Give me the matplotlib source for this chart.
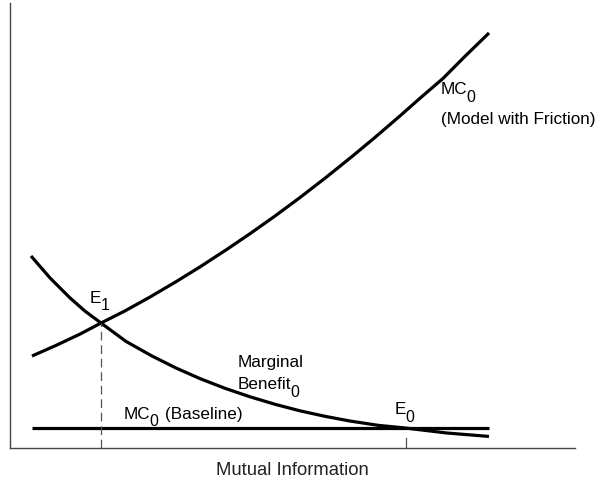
import matplotlib
matplotlib.use('Agg')
import matplotlib.pyplot as plt

plt.rcParams['font.family'] = ['Liberation Sans', 'DejaVu Sans']

# ---- data (arbitrary units 0..10) ----
mc_friction_x = [0.384, 0.809, 1.234, 1.606, 2.031, 2.474, 2.917, 3.359, 3.837, 4.245,
                 4.688, 5.130, 5.573, 6.051, 6.458, 6.901, 7.255, 7.662, 8.052, 8.477]
mc_friction_y = [2.066, 2.304, 2.558, 2.807, 3.079, 3.391, 3.721, 4.067, 4.462, 4.813,
                 5.210, 5.625, 6.059, 6.546, 6.975, 7.458, 7.855, 8.298, 8.796, 9.320]

mb_x = [0.367, 0.703, 1.057, 1.323, 1.606, 2.049, 2.509, 2.934, 3.359, 3.802,
        4.245, 4.688, 5.130, 5.573, 6.015, 6.511, 6.989, 7.733, 8.477]
mb_y = [4.312, 3.820, 3.371, 3.074, 2.807, 2.394, 2.066, 1.797, 1.559, 1.341,
        1.150, 0.982, 0.835, 0.712, 0.606, 0.510, 0.450, 0.337, 0.260]

baseline_x = [0.384, 8.477]
baseline_y = [0.450, 0.450]

e1_x, e1_y = 1.606, 2.807
e0_x, e0_y = 7.000, 0.450

xlabel = "Mutual Information"

# ---- figure ----
fig = plt.figure(figsize=(5.96, 4.82), dpi=100)
ax = fig.add_axes([0.01728, 0.0705, 0.9475, 0.9239])
ax.set_xlim(0, 10)
ax.set_ylim(0, 10)
for s in ['top', 'right']:
    ax.spines[s].set_visible(False)
for s in ['left', 'bottom']:
    ax.spines[s].set_color('#444444')
    ax.spines[s].set_linewidth(1.0)
ax.set_xticks([])
ax.set_yticks([])

lw = 2.3
ax.plot(mc_friction_x, mc_friction_y, color='black', lw=lw, solid_capstyle='butt',
        solid_joinstyle='round')
ax.plot(mb_x, mb_y, color='black', lw=lw, solid_capstyle='butt', solid_joinstyle='round')
ax.plot(baseline_x, baseline_y, color='black', lw=lw, solid_capstyle='butt')

# dashed drop line from E1 and small tick at E0
ax.plot([e1_x, e1_x], [0, e1_y], color='#555555', lw=0.9, dashes=(7.0, 3.8))
ax.plot([e0_x, e0_x], [0, 0.216], color='#555555', lw=0.9)

FS = 12.3
SUB = 11.5


def label(x, y, main, sub=None, tail=None, tail_x=None):
    t = ax.text(x, y, main, fontsize=FS, ha='left', va='baseline')
    if sub is not None:
        ax.annotate(sub, xy=(1, 0), xycoords=t, xytext=(-0.6, -3.2),
                    textcoords='offset points', fontsize=SUB,
                    ha='left', va='baseline')
    if tail is not None:
        ax.text(tail_x, y, tail, fontsize=FS, ha='left', va='baseline')
    return t


label(7.622, 7.939, "MC", "0")
ax.text(7.620, 7.276, "(Model with Friction)", fontsize=FS, ha='left', va='baseline')
label(1.411, 3.263, "E", "1")
ax.text(4.020, 1.812, "Marginal", fontsize=FS, ha='left', va='baseline')
label(4.020, 1.318, "Benefit", "0")
label(2.013, 0.651, "MC", "0", tail="(Baseline)", tail_x=2.739)
label(6.812, 0.757, "E", "0")

ax.text(0.5, -0.606 / 10.0, xlabel, transform=ax.transAxes, fontsize=13.3,
        ha='center', va='baseline', color='#222222')

fig.savefig('out.png', dpi=100)
